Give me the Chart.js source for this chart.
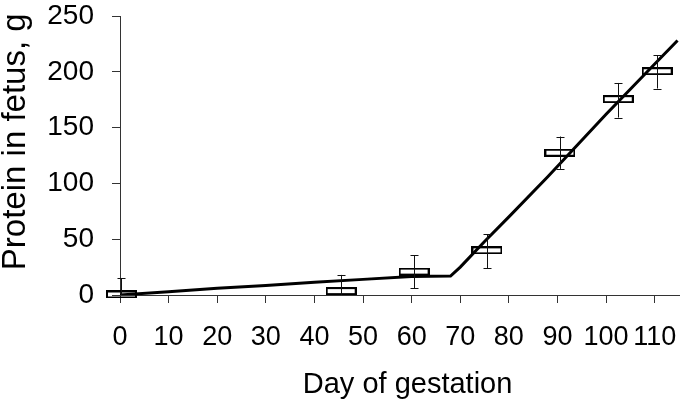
<!DOCTYPE html>
<html>
<head>
<meta charset="utf-8">
<script src="https://cdn.jsdelivr.net/npm/chart.js@4/dist/chart.umd.min.js"></script>
<style>
  html, body { margin: 0; padding: 0; background: #fff; }
  #wrap { width: 685px; height: 403px; }
</style>
</head>
<body>
<div id="wrap"><canvas id="c" width="685" height="403"></canvas></div>
<script>
// Observed means with error bars
const days = [0.3, 45.5, 60.5, 75.5, 90.5, 102.5, 110.5];
const protein = [0.5, 3.5, 21, 40, 127.5, 175.5, 200.5];
const errHigh = [15, 18, 35.5, 54.5, 142, 190, 215];
const errLow = [-14, -11, 6, 24, 113, 159, 185];

// Fitted curve
const fitDays = [0, 10, 20, 30, 40, 50, 60, 68, 70, 75, 80, 88, 94, 100, 110, 114.7];
const fitProtein = [0, 3, 6, 8.5, 11.5, 14, 16.5, 17, 25, 48, 70, 106, 134, 162, 207, 228];

// Axis tick settings
const xMin = 0, xMax = 115, xStep = 10;
const yMin = 0, yMax = 250, yStep = 50;

const xTitle = '  Day of gestation';
const yTitle = '   Protein in fetus, g';

// Box marker image
const boxImg = document.createElement('canvas');
boxImg.width = 31; boxImg.height = 8;
(function () {
  const g = boxImg.getContext('2d');
  g.strokeStyle = '#000';
  g.lineWidth = 2;
  g.strokeRect(1, 1, 29, 6);
})();

const errorBars = {
  id: 'errorBars',
  afterDatasetsDraw(chart) {
    const xs = chart.scales.x, ys = chart.scales.y, ctx = chart.ctx;
    ctx.save();
    ctx.strokeStyle = '#111';
    ctx.lineWidth = 1;
    for (let i = 0; i < days.length; i++) {
      const px = Math.round(xs.getPixelForValue(days[i])) + 0.5;
      const top = ys.getPixelForValue(errHigh[i]);
      const bot = ys.getPixelForValue(Math.max(errLow[i], yMin));
      ctx.beginPath();
      ctx.moveTo(px, top); ctx.lineTo(px, bot);
      ctx.moveTo(px - 4, Math.round(top) + 0.5); ctx.lineTo(px + 4, Math.round(top) + 0.5);
      if (errLow[i] >= yMin) {
        ctx.moveTo(px - 4, Math.round(bot) + 0.5); ctx.lineTo(px + 4, Math.round(bot) + 0.5);
      }
      ctx.stroke();
    }
    ctx.restore();
  }
};

new Chart(document.getElementById('c'), {
  type: 'scatter',
  data: {
    datasets: [
      {
        type: 'line',
        data: fitDays.map((d, i) => ({ x: d, y: fitProtein[i] })),
        borderColor: '#000',
        borderWidth: 3,
        pointRadius: 0,
        tension: 0,
        fill: false,
        order: 1
      },
      {
        type: 'scatter',
        data: days.map((d, i) => ({ x: d, y: protein[i] })),
        pointStyle: boxImg,
        pointRadius: 5,
        clip: false,
        order: 2
      }
    ]
  },
  options: {
    responsive: false,
    animation: false,
    events: [],
    layout: { padding: { top: 16, right: 3, left: 1, bottom: 0 } },
    plugins: { legend: { display: false }, tooltip: { enabled: false } },
    scales: {
      x: {
        type: 'linear',
        min: xMin, max: xMax,
        afterFit(scale) { scale.height = 108; scale.paddingLeft = 0; scale.paddingRight = 0; },
        ticks: {
          stepSize: xStep, includeBounds: false, autoSkip: false, maxRotation: 0,
          color: '#000', padding: 18,
          font: { family: 'Liberation Sans, Arial, sans-serif', size: 27 }
        },
        grid: { drawOnChartArea: false, drawTicks: true, tickLength: 8, color: '#333', lineWidth: 1 },
        border: { display: true, color: '#333', width: 1 },
        title: {
          display: true, text: xTitle, color: '#000',
          padding: { top: 0, bottom: 1 },
          font: { family: 'Liberation Sans, Arial, sans-serif', size: 29 }
        }
      },
      y: {
        type: 'linear',
        min: yMin, max: yMax,
        afterFit(scale) { scale.width = 119; scale.paddingTop = 0; scale.paddingBottom = 0; },
        ticks: {
          stepSize: yStep, color: '#000', padding: 18,
          font: { family: 'Liberation Sans, Arial, sans-serif', size: 28 }
        },
        grid: { drawOnChartArea: false, drawTicks: true, tickLength: 8, color: '#333', lineWidth: 1 },
        border: { display: true, color: '#333', width: 1 },
        title: {
          display: true, text: yTitle, color: '#000',
          padding: { top: 0, bottom: 0 },
          font: { family: 'Liberation Sans, Arial, sans-serif', size: 33, lineHeight: 0.9 }
        }
      }
    }
  },
  plugins: [errorBars]
});
</script>
</body>
</html>
